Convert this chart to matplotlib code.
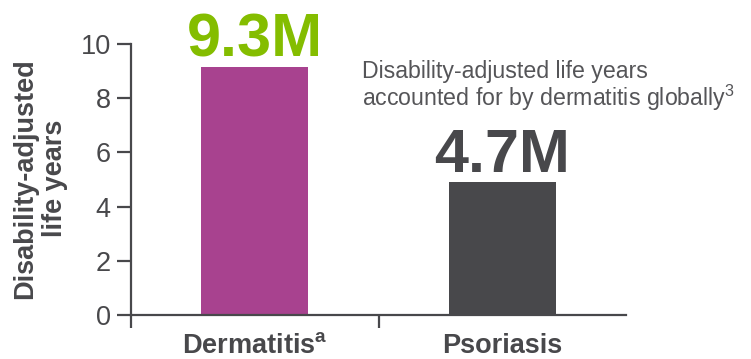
import matplotlib.pyplot as plt

# data
categories = ["Dermatitis$^{\\mathbf{a}}$", "Psoriasis"]
dalys = [9.15, 4.9]
bar_labels = ["9.3M", "4.7M"]
bar_colors = ["#A8428F", "#48484B"]
label_colors = ["#84BD00", "#48484B"]
yticks = [0, 2, 4, 6, 8, 10]

plt.rcParams["font.family"] = ["Liberation Sans", "DejaVu Sans"]
plt.rcParams["mathtext.fontset"] = "custom"
plt.rcParams["mathtext.rm"] = "Liberation Sans"
plt.rcParams["mathtext.bf"] = "Liberation Sans:bold"

gray = "#48484B"
fig = plt.figure(figsize=(7.51, 3.59), dpi=100)
ax = fig.add_axes([131 / 751, 1 - 315 / 359, 495 / 751, 271 / 359])

x = list(range(len(categories)))
ax.bar(x, dalys, width=0.434, color=bar_colors)
for xi, v, lab, c in zip(x, dalys, bar_labels, label_colors):
  ax.annotate(lab, (xi, v), xytext=(0, 7.5), textcoords="offset points",
              ha="center", va="baseline", fontsize=44, fontweight="bold", color=c)

ax.set_xlim(-0.5, 1.5)
ax.set_ylim(0, 10)
ax.set_yticks(yticks)
ax.set_xticks([-0.5, 0.5])
ax.set_xticklabels([])
ax.set_xticks(x, minor=True)
ax.set_xticklabels(categories, minor=True, fontsize=19.5, fontweight="bold", color=gray)
ax.tick_params(axis="x", which="minor", length=0, pad=13)
ax.tick_params(axis="x", which="major", length=9, width=1.6, color=gray, direction="out")
ax.tick_params(axis="y", length=10, width=1.6, color=gray, labelsize=19.5,
               labelcolor=gray, pad=4.5)

for s in ["top", "right"]:
  ax.spines[s].set_visible(False)
for s in ["left", "bottom"]:
  ax.spines[s].set_linewidth(1.6)
  ax.spines[s].set_color(gray)

ax.set_ylabel("Disability-adjusted\nlife years", fontsize=19.5, fontweight="bold",
              color=gray, linespacing=1.2)
ax.yaxis.set_label_coords((68 - 131) / 495, 0.505)

fig.text(362 / 751, 1 - 60 / 359,
         "Disability-adjusted life years\naccounted for by dermatitis globally$^{3}$",
         fontsize=16.7, color="#555558", va="top", ha="left", linespacing=1.0)

fig.savefig("out.png", dpi=100)
